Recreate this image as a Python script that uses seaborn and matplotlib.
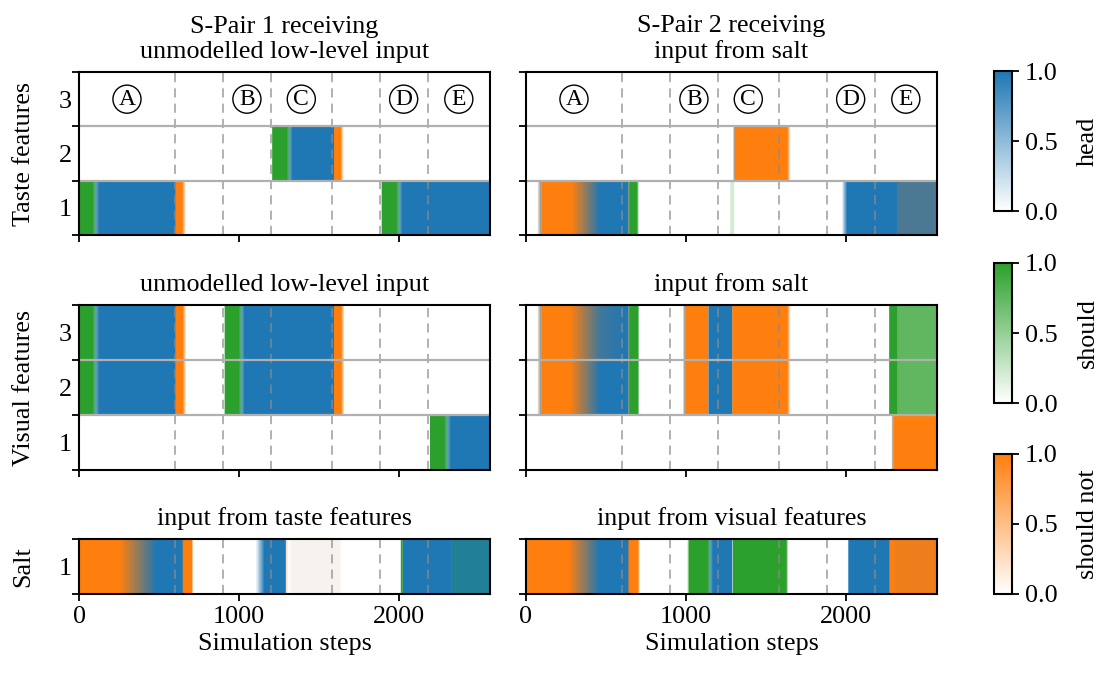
import numpy as np
import matplotlib
matplotlib.use("Agg")
import matplotlib.pyplot as plt
import seaborn as sns
from matplotlib.colors import LinearSegmentedColormap, Normalize, to_rgb
from matplotlib.cm import ScalarMappable

# ---------------- data ----------------
T_END = 2570
PHASE_BOUNDS = [600, 900, 1200, 1580, 1880, 2180]
PHASE_LABELS = ["A", "B", "C", "D", "E"]
PHASE_CENTERS = [300, 1050, 1390, 2030, 2375]
XTICKS = [0, 1000, 2000]

ROW_LABELS = ["Taste features", "Visual features", "Salt"]
TOP_TITLES = ["S-Pair 1 receiving\nunmodelled low-level input",
              "S-Pair 2 receiving\ninput from salt"]
MID_TITLES = ["unmodelled low-level input", "input from salt"]
BOT_TITLES = ["input from taste features", "input from visual features"]
CHANNELS = ["head", "should", "should not"]

# keyframes: (step, head, should, should_not)
EMPTY = [(0, 0, 0, 0), (T_END, 0, 0, 0)]

P1_TASTE1 = [(0, 0, 1, 0), (85, 0, 1, 0), (125, 1, 0, 0), (602, 1, 0, 0),
             (606, 0, 0, 1), (645, 0, 0, 1), (668, 0, 0, 0), (1890, 0, 0, 0),
             (1896, 0, 1, 0), (1985, 0, 1, 0), (2022, 1, 0, 0), (T_END, 1, 0, 0)]
P1_TASTE2 = [(0, 0, 0, 0), (1205, 0, 0, 0), (1211, 0, 1, 0), (1300, 0, 1, 0),
             (1335, 1, 0, 0), (1593, 1, 0, 0), (1597, 0, 0, 1), (1635, 0, 0, 1),
             (1655, 0, 0, 0), (T_END, 0, 0, 0)]
P1_TASTE3 = EMPTY

P1_VIS23 = [(0, 0, 1, 0), (85, 0, 1, 0), (125, 1, 0, 0), (602, 1, 0, 0),
            (606, 0, 0, 1), (648, 0, 0, 1), (670, 0, 0, 0), (908, 0, 0, 0),
            (914, 0, 1, 0), (1000, 0, 1, 0), (1035, 1, 0, 0), (1593, 1, 0, 0),
            (1597, 0, 0, 1), (1640, 0, 0, 1), (1660, 0, 0, 0), (T_END, 0, 0, 0)]
P1_VIS1 = [(0, 0, 0, 0), (2192, 0, 0, 0), (2197, 0, 1, 0), (2285, 0, 1, 0),
           (2325, 1, 0, 0), (T_END, 1, 0, 0)]

P1_SALT = [(0, 0, 0, 1), (255, 0, 0, 1), (484, 1, 0, 1), (646, 1, 0, 1),
           (650, 0, 0, 1), (706, 0, 0, 1), (712, 0, 0, 0), (1105, 0, 0, 0),
           (1160, 1, 0, 0), (1290, 1, 0, 0), (1296, 0, 0, 0.3), (1310, 0, 0, 0),
           (1335, 0.03, 0.01, 0.05), (1628, 0.03, 0.01, 0.05), (1645, 0, 0, 0),
           (2010, 0, 0, 0), (2015, 0, 1, 0), (2022, 0, 1, 0), (2027, 1, 0, 0),
           (2327, 1, 0, 0), (2333, 0.8, 1, 0), (T_END, 0.8, 1, 0)]

P2_TASTE1 = [(0, 0, 0, 0), (70, 0, 0, 0), (90, 0.4, 0, 0.5), (100, 0, 0, 1),
             (285, 0, 0, 1), (461, 1, 0, 1), (637, 1, 0, 1), (642, 0.3, 0.4, 0.3),
             (648, 0, 1, 0), (694, 0, 1, 0), (706, 0, 0, 0), (1275, 0, 0, 0),
             (1280, 0, 0.2, 0), (1300, 0, 0.2, 0), (1305, 0, 0, 0), (1975, 0, 0, 0),
             (2008, 1, 0, 0), (2318, 1, 0, 0), (2322, 0.8, 0, 1), (T_END, 0.8, 0, 1)]
P2_TASTE2 = [(0, 0, 0, 0), (1295, 0, 0, 0), (1302, 0.4, 0, 0.5), (1310, 0, 0, 1),
             (1634, 0, 0, 1), (1655, 0, 0, 0), (T_END, 0, 0, 0)]
P2_TASTE3 = EMPTY

P2_VIS3 = [(0, 0, 0, 0), (70, 0, 0, 0), (90, 0.4, 0, 0.5), (100, 0, 0, 1),
           (274, 0, 0, 1), (461, 0.85, 0, 1), (637, 1, 0, 1), (642, 0.3, 0.5, 0.3),
           (648, 0, 1, 0), (698, 0, 1, 0), (710, 0, 0, 0), (980, 0, 0, 0),
           (992, 0.4, 0, 0.5), (1001, 0, 0, 1), (1136, 0, 0, 1), (1146, 1, 0, 0),
           (1285, 1, 0, 0), (1292, 0, 0, 1), (1634, 0, 0, 1), (1655, 0, 0, 0),
           (2268, 0, 0, 0), (2274, 0, 1, 0), (2318, 0, 1, 0), (2324, 0, 0.75, 0),
           (T_END, 0, 0.75, 0)]
P2_VIS2 = [(0, 0, 0, 0), (70, 0, 0, 0), (90, 0.4, 0, 0.5), (100, 0, 0, 1),
           (274, 0, 0, 1), (461, 1, 0, 1), (637, 1, 0, 1), (642, 0.3, 0.5, 0.3),
           (648, 0, 1, 0), (698, 0, 1, 0), (710, 0, 0, 0), (980, 0, 0, 0),
           (992, 0.4, 0, 0.5), (1001, 0, 0, 1), (1136, 0, 0, 1), (1146, 1, 0, 0),
           (1285, 1, 0, 0), (1292, 0, 0, 1), (1634, 0, 0, 1), (1655, 0, 0, 0),
           (2268, 0, 0, 0), (2274, 0, 1, 0), (2318, 0, 1, 0), (2324, 0, 0.75, 0),
           (T_END, 0, 0.75, 0)]
P2_VIS1 = [(0, 0, 0, 0), (2285, 0, 0, 0), (2293, 0.3, 0, 0.5), (2302, 0, 0, 1),
           (T_END, 0, 0, 1)]

P2_SALT = [(0, 0, 0, 1), (264, 0, 0, 1), (461, 1, 0, 1), (637, 1, 0, 1),
           (644, 0, 0, 1), (700, 0, 0, 1), (712, 0, 0, 0), (1008, 0, 0, 0),
           (1022, 0, 1, 0), (1136, 0, 1, 0), (1168, 1, 0, 0), (1285, 1, 0, 0),
           (1291, 0.2, 0.3, 0), (1297, 0, 1, 0), (1627, 0, 1, 0), (1640, 0, 0, 0),
           (2012, 0, 0, 0), (2019, 1, 0, 0), (2272, 1, 0, 0), (2276, 0, 0, 1),
           (2300, 0, 0, 1), (2310, 0.08, 0, 1), (T_END, 0.08, 0, 1)]

PANELS = [
    [[P1_TASTE1, P1_TASTE2, P1_TASTE3], [P2_TASTE1, P2_TASTE2, P2_TASTE3]],
    [[P1_VIS1, P1_VIS23, P1_VIS23], [P2_VIS1, P2_VIS2, P2_VIS3]],
    [[P1_SALT], [P2_SALT]],
]

BLUE, GREEN, ORANGE = "#1f77b4", "#2ca02c", "#ff7f0e"

# ---------------- style ----------------
sns.set_theme(style="ticks")
FS = 18.8
plt.rcParams.update({
    "font.family": ["Liberation Serif", "DejaVu Serif"],
    "font.size": FS,
    "axes.titlesize": FS,
    "axes.labelsize": FS,
    "xtick.labelsize": FS,
    "ytick.labelsize": FS,
    "axes.linewidth": 1.5,
    "xtick.major.width": 1.3,
    "ytick.major.width": 1.3,
    "xtick.major.size": 5,
    "ytick.major.size": 5,
    "xtick.color": "black",
    "ytick.color": "black",
    "axes.edgecolor": "black",
    "text.color": "black",
    "axes.labelcolor": "black",
})

W, H = 1101, 673
fig = plt.figure(figsize=(W / 100, H / 100), dpi=100)


def box(x0, y0, x1, y1):
    return [x0 / W, 1 - y1 / H, (x1 - x0) / W, (y1 - y0) / H]


def strip_rgb(kf):
    arr = np.array(kf, dtype=float)
    t = np.arange(0, T_END + 1)
    h = np.interp(t, arr[:, 0], arr[:, 1])
    s = np.interp(t, arr[:, 0], arr[:, 2])
    n = np.interp(t, arr[:, 0], arr[:, 3])
    rgb = np.ones((t.size, 3))
    for a, c in ((n, ORANGE), (s, GREEN), (h, BLUE)):
        rgb = rgb * (1 - a[:, None]) + np.array(to_rgb(c))[None, :] * a[:, None]
    return rgb


COL_X = [(79, 490), (526, 937)]
ROW_Y = [(72, 235), (305, 470), (539, 594)]
TITLES = [TOP_TITLES, MID_TITLES, BOT_TITLES]

for r in range(3):
    for c in range(2):
        ax = fig.add_axes(box(COL_X[c][0], ROW_Y[r][0], COL_X[c][1], ROW_Y[r][1]))
        strips = PANELS[r][c]
        nrow = len(strips)
        for k, kf in enumerate(strips):
            img = strip_rgb(kf)[None, :, :]
            ax.imshow(img, extent=(0, T_END, k + 0.5, k + 1.5), aspect="auto",
                      interpolation="nearest", zorder=1)
        ax.set_xlim(0, T_END)
        ax.set_ylim(0.5, nrow + 0.5)
        for b in range(1, nrow):
            ax.axhline(b + 0.5, color="#b0b0b0", lw=1.6, zorder=3)
        for xb in PHASE_BOUNDS:
            ax.axvline(xb, color="0.55", lw=1.1, ls=(0, (6, 4)), alpha=0.85, zorder=2)
        ax.set_yticks([k + 0.5 for k in range(nrow + 1)])
        ax.set_yticklabels([])
        ax.set_yticks(list(range(1, nrow + 1)), minor=True)
        if c == 0:
            ax.set_yticklabels([str(k) for k in range(1, nrow + 1)], minor=True)
            ax.set_ylabel(ROW_LABELS[r])
            ax.yaxis.set_label_coords(-0.108, 0.5)
        else:
            ax.set_yticklabels([], minor=True)
        ax.tick_params(axis="y", which="minor", length=0, pad=5)
        ax.set_xticks(XTICKS)
        if r == 2:
            ax.set_xticklabels([str(v) for v in XTICKS])
            ax.set_xlabel("Simulation steps", labelpad=4)
        else:
            ax.set_xticklabels([])
        ax.set_title(TITLES[r][c], pad=10, fontsize=FS, linespacing=1.2)
        for sp in ax.spines.values():
            sp.set_visible(True)
            sp.set_linewidth(1.5)
            sp.set_zorder(5)
        if r == 0:
            for lab, xc in zip(PHASE_LABELS, PHASE_CENTERS):
                ax.text(xc, 3, lab, ha="center", va="center", fontsize=17, zorder=6,
                        bbox=dict(boxstyle="circle,pad=0.15", fc="white", ec="black", lw=1))

CB_Y = [(71, 211), (263, 403), (454, 594)]
for (y0, y1), col, name in zip(CB_Y, [BLUE, GREEN, ORANGE], CHANNELS):
    cax = fig.add_axes(box(994, y0, 1012, y1))
    cmap = LinearSegmentedColormap.from_list(name, ["white", col])
    cb = fig.colorbar(ScalarMappable(norm=Normalize(0, 1), cmap=cmap), cax=cax)
    cb.set_ticks([0, 0.5, 1.0])
    cb.set_ticklabels(["0.0", "0.5", "1.0"])
    cb.outline.set_linewidth(1.5)
    cb.outline.set_edgecolor("black")
    cax.tick_params(length=5, width=1.3, pad=4, labelsize=FS)
    cb.set_label(name, labelpad=14, fontsize=FS)

fig.savefig("out.png", dpi=100)
